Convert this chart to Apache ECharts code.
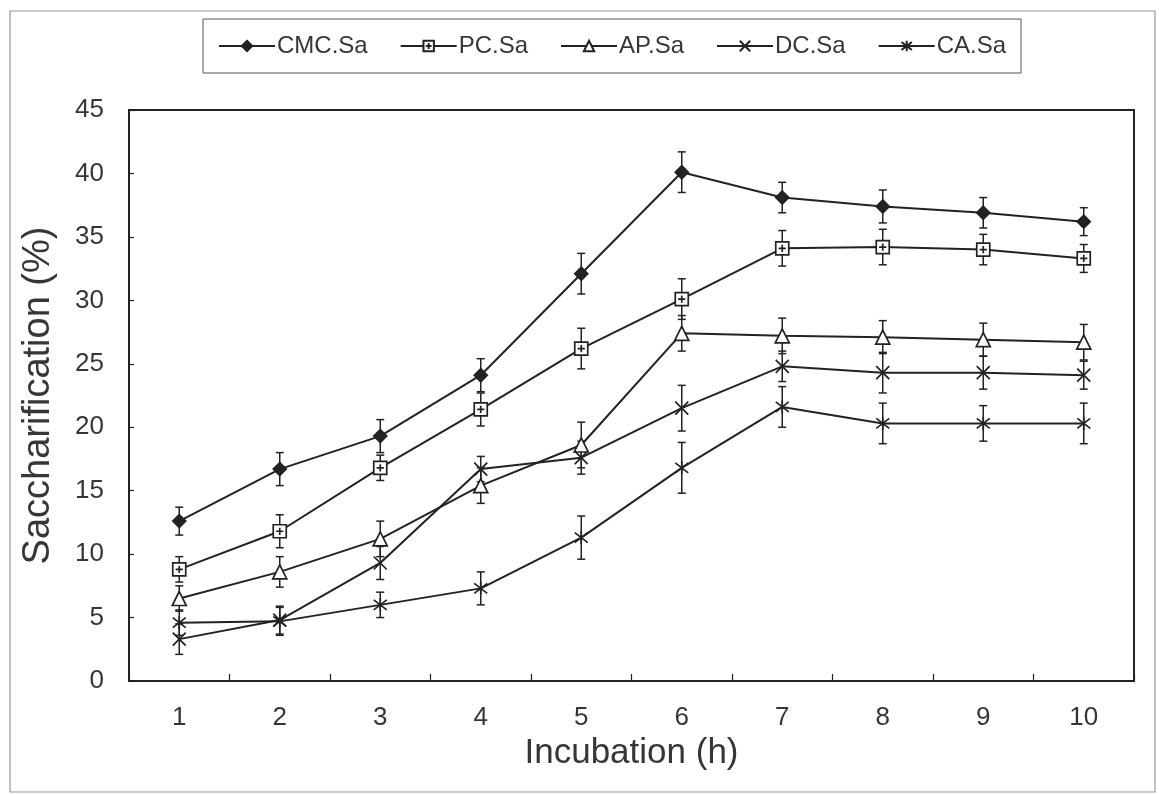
<!DOCTYPE html>
<html>
<head>
<meta charset="utf-8">
<script src="https://cdn.jsdelivr.net/npm/echarts@6/dist/echarts.min.js"></script>
<style>
  html, body { margin: 0; padding: 0; background: #fff; }
  #chart { width: 1159px; height: 794px; }
</style>
</head>
<body>
<div id="chart"></div>
<script>
// Incubation time points (h)
const hours = ['1', '2', '3', '4', '5', '6', '7', '8', '9', '10'];

// Saccharification (%) means per substrate
const cmcSa = [12.6, 16.7, 19.3, 24.1, 32.1, 40.1, 38.1, 37.4, 36.9, 36.2];
const pcSa  = [8.8, 11.8, 16.8, 21.4, 26.2, 30.1, 34.1, 34.2, 34.0, 33.3];
const apSa  = [6.5, 8.6, 11.2, 15.4, 18.6, 27.4, 27.2, 27.1, 26.9, 26.7];
const dcSa  = [3.3, 4.8, 9.3, 16.7, 17.6, 21.5, 24.8, 24.3, 24.3, 24.1];
const caSa  = [4.6, 4.7, 6.0, 7.3, 11.3, 16.8, 21.6, 20.3, 20.3, 20.3];

// Standard deviations (± error bars)
const cmcErr = [1.1, 1.3, 1.3, 1.3, 1.6, 1.6, 1.2, 1.3, 1.2, 1.1];
const pcErr  = [1.0, 1.3, 1.0, 1.3, 1.6, 1.6, 1.4, 1.4, 1.2, 1.1];
const apErr  = [1.0, 1.2, 1.4, 1.4, 1.8, 1.4, 1.4, 1.3, 1.3, 1.4];
const dcErr  = [1.2, 1.1, 1.3, 1.0, 1.3, 1.8, 1.2, 1.6, 1.3, 1.1];
const caErr  = [1.0, 1.1, 1.0, 1.3, 1.7, 2.0, 1.6, 1.6, 1.4, 1.6];

// Y axis ticks
const yMin = 0, yMax = 45, yStep = 5;

const INK = '#222222';
const TEXT = '#363636';
const FONT = '"Liberation Sans", Arial, sans-serif';

const symbols = {
  diamond: 'diamond',
  // open square with a small inner cross
  square: 'path://M0,0 L10,0 L10,10 L0,10 Z M5,2.2 L5,7.8 M2.2,5 L7.8,5',
  triangle: 'triangle',
  cross: 'path://M0,0 L10,10 M10,0 L0,10',
  star: 'path://M0,0 L10,10 M10,0 L0,10 M5,-1.5 L5,11.5'
};

const seriesDefs = [
  { name: 'CMC.Sa', data: cmcSa, err: cmcErr, symbol: symbols.diamond,  size: 13, fill: INK },
  { name: 'PC.Sa',  data: pcSa,  err: pcErr,  symbol: symbols.square,   size: 13, fill: '#fff' },
  { name: 'AP.Sa',  data: apSa,  err: apErr,  symbol: symbols.triangle, size: 14, fill: '#fff' },
  { name: 'DC.Sa',  data: dcSa,  err: dcErr,  symbol: symbols.cross,    size: 13, fill: INK },
  { name: 'CA.Sa',  data: caSa,  err: caErr,  symbol: symbols.star,     size: 13, fill: INK }
];

// Vertical error bar with caps
function errorBarRenderer(params, api) {
  const x = api.value(0);
  const lo = api.coord([x, api.value(1)]);
  const hi = api.coord([x, api.value(2)]);
  const cap = 4;
  const style = { stroke: INK, lineWidth: 1.5 };
  return {
    type: 'group',
    children: [
      { type: 'line', shape: { x1: lo[0], y1: lo[1], x2: hi[0], y2: hi[1] }, style },
      { type: 'line', shape: { x1: hi[0] - cap, y1: hi[1], x2: hi[0] + cap, y2: hi[1] }, style },
      { type: 'line', shape: { x1: lo[0] - cap, y1: lo[1], x2: lo[0] + cap, y2: lo[1] }, style }
    ]
  };
}

const series = [];
seriesDefs.forEach(function (d) {
  series.push({
    name: d.name + ' err',
    type: 'custom',
    renderItem: errorBarRenderer,
    data: d.data.map(function (v, i) { return [i, v - d.err[i], v + d.err[i]]; }),
    encode: { x: 0, y: [1, 2] },
    z: 1,
    silent: true
  });
});
seriesDefs.forEach(function (d) {
  series.push({
    name: d.name,
    type: 'line',
    data: d.data,
    symbol: d.symbol,
    symbolSize: d.size,
    showAllSymbol: true,
    lineStyle: { color: INK, width: 2 },
    itemStyle: { color: d.fill, borderColor: INK, borderWidth: 1.7 },
    emphasis: { disabled: true },
    z: 3,
    animation: false
  });
});

const chart = echarts.init(document.getElementById('chart'), null, { renderer: 'canvas' });
chart.setOption({
  animation: false,
  backgroundColor: '#fff',
  textStyle: { fontFamily: FONT },
  grid: {
    left: 129, right: 25, top: 110, bottom: 113,
    show: true, borderColor: INK, borderWidth: 2, backgroundColor: 'transparent'
  },
  legend: {
    data: seriesDefs.map(function (d) { return d.name; }),
    left: 203, top: 19,
    padding: [15, 15, 15, 15],
    itemGap: 32,
    itemWidth: 56,
    itemHeight: 13,
    borderColor: '#555', borderWidth: 1,
    textStyle: { fontFamily: FONT, fontSize: 24, color: TEXT, padding: [0, 0, 0, -3] },
    selectedMode: false
  },
  xAxis: {
    type: 'category',
    data: hours,
    boundaryGap: true,
    name: 'Incubation (h)',
    nameLocation: 'middle',
    nameGap: 41,
    nameTextStyle: { fontFamily: FONT, fontSize: 35, color: TEXT },
    axisLine: { show: true, lineStyle: { color: INK, width: 2 } },
    axisTick: { show: true, inside: true, length: 7, lineStyle: { color: INK, width: 1.2 } },
    axisLabel: { fontFamily: FONT, fontSize: 26, color: TEXT, margin: 24 },
    splitLine: { show: false }
  },
  yAxis: {
    type: 'value',
    min: yMin, max: yMax, interval: yStep,
    name: 'Saccharification (%)',
    nameLocation: 'middle',
    nameGap: 71,
    nameTextStyle: { fontFamily: FONT, fontSize: 38, color: TEXT },
    axisLine: { show: true, lineStyle: { color: INK, width: 2 } },
    axisTick: { show: true, inside: true, length: 5, lineStyle: { color: INK, width: 1.2 } },
    axisLabel: { fontFamily: FONT, fontSize: 26, color: TEXT, margin: 25 },
    splitLine: { show: false }
  },
  graphic: [{
    type: 'rect',
    shape: { x: 10, y: 11, width: 1145, height: 781 },
    style: { fill: 'none', stroke: '#9a9a9a', lineWidth: 1.2 },
    silent: true,
    z: -1
  }],
  series: series
});
</script>
</body>
</html>
